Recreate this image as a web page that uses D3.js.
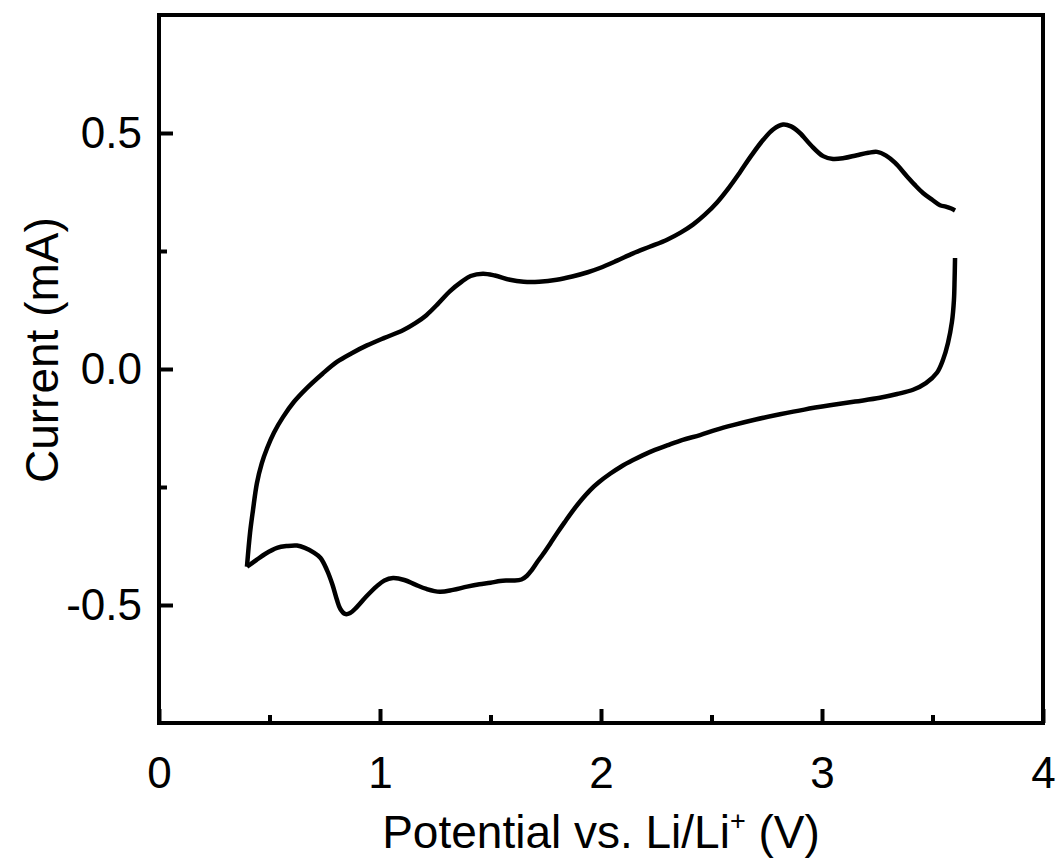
<!DOCTYPE html>
<html>
<head>
<meta charset="utf-8">
<script src="https://cdn.jsdelivr.net/npm/d3@7"></script>
<style>
  html, body { margin: 0; padding: 0; background: #fff; }
  svg { display: block; }
  text { font-family: "Liberation Sans", Arial, Helvetica, sans-serif; fill: #000; }
</style>
</head>
<body>
<svg id="chart" width="1059" height="860"></svg>
<script>
// Cyclic voltammogram: anodic sweep (0.4 V -> 3.6 V) and cathodic sweep (3.6 V -> 0.4 V)
const anodicPotential = [0.398, 0.412, 0.425, 0.443, 0.465, 0.489, 0.52, 0.561, 0.61, 0.670, 0.74, 0.805, 0.87, 0.941, 1.02, 1.104, 1.16, 1.21, 1.26, 1.317, 1.37, 1.41, 1.466, 1.52, 1.588, 1.65, 1.72, 1.80, 1.87, 1.94, 1.995, 2.07, 2.145, 2.22, 2.299, 2.36, 2.416, 2.47, 2.525, 2.58, 2.629, 2.68, 2.733, 2.78, 2.824, 2.86, 2.90, 2.95, 3.005, 3.050, 3.10, 3.158, 3.21, 3.249, 3.29, 3.33, 3.385, 3.42, 3.457, 3.50, 3.534, 3.56, 3.585, 3.602];
const anodicCurrent = [-0.419, -0.347, -0.300, -0.242, -0.200, -0.168, -0.135, -0.102, -0.070, -0.040, -0.010, 0.015, 0.033, 0.050, 0.066, 0.082, 0.097, 0.114, 0.137, 0.165, 0.185, 0.197, 0.202, 0.198, 0.189, 0.185, 0.185, 0.189, 0.196, 0.205, 0.214, 0.229, 0.245, 0.259, 0.274, 0.289, 0.306, 0.327, 0.353, 0.385, 0.417, 0.452, 0.485, 0.508, 0.518, 0.514, 0.500, 0.474, 0.451, 0.445, 0.447, 0.453, 0.458, 0.460, 0.452, 0.437, 0.408, 0.390, 0.373, 0.358, 0.347, 0.344, 0.340, 0.336];

const cathodicPotential = [3.602, 3.600, 3.597, 3.588, 3.570, 3.548, 3.520, 3.47, 3.412, 3.34, 3.262, 3.15, 3.036, 2.92, 2.81, 2.70, 2.597, 2.52, 2.448, 2.37, 2.299, 2.22, 2.145, 2.09, 2.041, 1.99, 1.950, 1.91, 1.873, 1.835, 1.801, 1.77, 1.738, 1.71, 1.685, 1.665, 1.640, 1.602, 1.57, 1.543, 1.50, 1.45, 1.394, 1.33, 1.271, 1.21, 1.160, 1.11, 1.059, 1.02, 0.986, 0.94, 0.896, 0.865, 0.842, 0.82, 0.805, 0.785, 0.760, 0.73, 0.697, 0.66, 0.624, 0.58, 0.534, 0.48, 0.44, 0.398];
const cathodicCurrent = [0.235, 0.19, 0.146, 0.10, 0.055, 0.020, -0.008, -0.030, -0.044, -0.053, -0.061, -0.069, -0.077, -0.086, -0.096, -0.107, -0.119, -0.129, -0.140, -0.150, -0.162, -0.176, -0.193, -0.207, -0.222, -0.240, -0.257, -0.278, -0.300, -0.325, -0.348, -0.370, -0.392, -0.410, -0.427, -0.438, -0.446, -0.448, -0.448, -0.449, -0.453, -0.456, -0.461, -0.468, -0.472, -0.466, -0.457, -0.447, -0.443, -0.448, -0.460, -0.481, -0.504, -0.517, -0.519, -0.508, -0.489, -0.457, -0.426, -0.400, -0.388, -0.379, -0.374, -0.375, -0.379, -0.392, -0.405, -0.419];

const xMajorTicks = [0, 1, 2, 3, 4];
const xMinorTicks = [0.5, 1.5, 2.5, 3.5];
const yMajorTicks = [-0.5, 0.0, 0.5];
const yMinorTicks = [-0.25, 0.25];
const yTickLabels = ["-0.5", "0.0", "0.5"];

const svg = d3.select("#chart");
const margin = { left: 159, top: 15, right: 1059 - 1043, bottom: 860 - 723 };
const width = 1059 - margin.left - margin.right;
const height = 860 - margin.top - margin.bottom;

const x = d3.scaleLinear().domain([0, 4]).range([0, width]);
const y = d3.scaleLinear().domain([-0.75, 0.75]).range([height, 0]);

const g = svg.append("g").attr("transform", `translate(${margin.left},${margin.top})`);

const tickFont = 44;
const titleFont = 46;

// Bottom axis: inward major and minor ticks
const xAxis = g.append("g").attr("transform", `translate(0,${height})`)
  .call(d3.axisBottom(x).tickValues(xMajorTicks).tickFormat(d3.format("d"))
    .tickSizeInner(-14).tickSizeOuter(0).tickPadding(34));
xAxis.call(a => a.select(".domain").remove());
xAxis.selectAll(".tick line").attr("stroke", "#000").attr("stroke-width", 4);
xAxis.selectAll(".tick text").style("font-size", tickFont + "px").attr("font-family", null);

const xMinor = g.append("g").attr("transform", `translate(0,${height})`)
  .call(d3.axisBottom(x).tickValues(xMinorTicks).tickFormat("").tickSizeInner(-8).tickSizeOuter(0));
xMinor.call(a => a.select(".domain").remove());
xMinor.selectAll(".tick line").attr("stroke", "#000").attr("stroke-width", 4);

// Left axis
const yAxis = g.append("g")
  .call(d3.axisLeft(y).tickValues(yMajorTicks).tickFormat((d, i) => yTickLabels[i])
    .tickSizeInner(-14).tickSizeOuter(0).tickPadding(17));
yAxis.call(a => a.select(".domain").remove());
yAxis.selectAll(".tick line").attr("stroke", "#000").attr("stroke-width", 4);
yAxis.selectAll(".tick text").style("font-size", tickFont + "px").attr("font-family", null);

const yMinor = g.append("g")
  .call(d3.axisLeft(y).tickValues(yMinorTicks).tickFormat("").tickSizeInner(-8).tickSizeOuter(0));
yMinor.call(a => a.select(".domain").remove());
yMinor.selectAll(".tick line").attr("stroke", "#000").attr("stroke-width", 4);

// Plot frame
g.append("rect")
  .attr("x", 0).attr("y", 0).attr("width", width).attr("height", height)
  .attr("fill", "none").attr("stroke", "#000").attr("stroke-width", 4);

// Sweeps
const line = d3.line()
  .x(d => x(d[0])).y(d => y(d[1]))
  .curve(d3.curveCatmullRom.alpha(0.5));

const anodic = anodicPotential.map((v, i) => [v, anodicCurrent[i]]);
const cathodic = cathodicPotential.map((v, i) => [v, cathodicCurrent[i]]);

g.selectAll("path.sweep").data([anodic, cathodic]).join("path")
  .attr("class", "sweep")
  .attr("d", line)
  .attr("fill", "none")
  .attr("stroke", "#000")
  .attr("stroke-width", 4.5)
  .attr("stroke-linejoin", "round")
  .attr("stroke-linecap", "butt");

// Axis titles
svg.append("text")
  .attr("x", margin.left + x(2)).attr("y", 848)
  .attr("text-anchor", "middle")
  .style("font-size", titleFont + "px")
  .call(t => {
    t.append("tspan").text("Potential vs. Li/Li");
    t.append("tspan").attr("dy", -18).style("font-size", "27px").text("+");
    t.append("tspan").attr("dy", 18).text(" (V)");
  });

svg.append("text")
  .attr("transform", `translate(58,${margin.top + y(0.04)}) rotate(-90)`)
  .attr("text-anchor", "middle")
  .style("font-size", titleFont + "px")
  .text("Current (mA)");
</script>
</body>
</html>
